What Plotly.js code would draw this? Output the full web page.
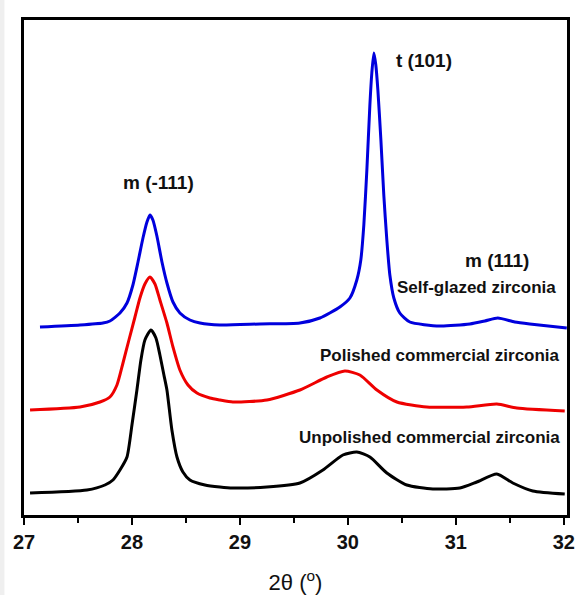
<!DOCTYPE html>
<html>
<head>
<meta charset="utf-8">
<script src="https://cdn.plot.ly/plotly-3.0.1.min.js"></script>
<style>html,body{margin:0;padding:0;background:#fff;}#chart{width:577px;height:595px;}</style>
</head>
<body>
<div id="chart"></div>
<script>
// 2θ (degrees) and intensity (arbitrary units, curves offset vertically)
const selfGlazedX = [27.148,27.519,27.731,27.796,27.889,27.954,28.009,28.056,28.102,28.139,28.167,28.194,28.231,28.278,28.324,28.380,28.444,28.537,28.630,28.815,29.185,29.556,29.741,29.926,30.019,30.083,30.120,30.148,30.176,30.204,30.222,30.241,30.259,30.278,30.306,30.333,30.361,30.389,30.426,30.481,30.574,30.852,31.130,31.269,31.389,31.546,31.685,32.028];
const selfGlazedY = [188,190,192,194,202,212,230,253,277,293,300,295,279,253,232,213,202,195,192,190,191,192,197,208,217,235,255,290,345,410,442,462,450,425,375,320,275,240,217,202,193,189,191,194,197,193,191,187];

const polishedX = [27.056,27.519,27.704,27.796,27.861,27.917,27.972,28.028,28.074,28.120,28.167,28.213,28.259,28.324,28.380,28.444,28.519,28.602,28.722,28.815,28.935,29.250,29.556,29.806,29.972,30.111,30.269,30.454,30.731,31.102,31.380,31.565,32.009];
const polishedY = [105,108,113,118,130,152,175,198,217,231,238,231,215,192,168,145,130,122,117,115,113,115,125,138,144,140,125,113,108,108,111,107,104];

const unpolishedX = [27.056,27.583,27.750,27.824,27.889,27.954,28.000,28.046,28.083,28.120,28.176,28.222,28.259,28.296,28.324,28.370,28.417,28.472,28.537,28.676,28.815,28.935,29.250,29.556,29.769,29.954,30.083,30.204,30.361,30.546,30.787,31.037,31.194,31.380,31.528,31.713,32.009];
const unpolishedY = [22,25,30,35,45,58,90,125,155,175,185,177,160,140,125,85,58,43,35,30,28,27,28,32,45,60,63,58,42,30,26,27,33,41,32,24,21];

const tickVals = [27,28,29,30,31,32];
const tickText = ["27","28","29","30","31","32"];

const FONT = '"Liberation Sans", Arial, sans-serif';

const traces = [
  {x: unpolishedX, y: unpolishedY, mode: 'lines', line: {color: '#000000', width: 3, shape: 'spline', smoothing: 0.6}, name: 'Unpolished commercial zirconia'},
  {x: polishedX, y: polishedY, mode: 'lines', line: {color: '#ee0000', width: 3, shape: 'spline', smoothing: 0.6}, name: 'Polished commercial zirconia'},
  {x: selfGlazedX, y: selfGlazedY, mode: 'lines', line: {color: '#0000dd', width: 3, shape: 'spline', smoothing: 0.6}, name: 'Self-glazed zirconia'}
];

const ann = (x, y, text, xanchor, size) => ({
  x: x, y: y, xref: 'x', yref: 'y', text: text, showarrow: false,
  xanchor: xanchor, yanchor: 'middle',
  font: {family: FONT, size: size, color: '#111'}
});

const layout = {
  width: 577, height: 595,
  margin: {l: 24, r: 10, t: 20, b: 80},
  paper_bgcolor: '#ffffff', plot_bgcolor: '#ffffff',
  showlegend: false,
  xaxis: {
    range: [27, 32.03], tickvals: tickVals, ticktext: tickText,
    ticks: 'outside', ticklen: 7, tickwidth: 2, tickcolor: '#000',
    minor: {dtick: 0.5, ticks: 'outside', ticklen: 5, tickwidth: 2, tickcolor: '#000'},
    showline: true, linecolor: '#000', linewidth: 3, mirror: true,
    showgrid: false, zeroline: false,
    tickfont: {family: FONT, size: 20, color: '#111', weight: 'bold'},
    title: {text: '2θ (<sup>o</sup>)', standoff: 24, font: {family: FONT, size: 22, color: '#111'}}
  },
  yaxis: {
    range: [0, 495], showticklabels: false, ticks: '',
    showline: true, linecolor: '#000', linewidth: 3, mirror: true,
    showgrid: false, zeroline: false
  },
  annotations: [
    ann(28.25, 333, '<b>m (-111)</b>', 'center', 19),
    ann(30.43, 455, '<b>t (101)</b>', 'left', 19),
    ann(31.38, 255, '<b>m (111)</b>', 'center', 19),
    ann(31.944, 228, '<b>Self-glazed zirconia</b>', 'right', 17),
    ann(31.98, 160, '<b>Polished commercial zirconia</b>', 'right', 17),
    ann(31.98, 78, '<b>Unpolished commercial zirconia</b>', 'right', 17)
  ],
  shapes: [
    {type: 'rect', xref: 'paper', yref: 'paper', x0: -0.05, x1: -0.036, y0: -0.2, y1: 1.05, fillcolor: '#efefef', line: {width: 0}, layer: 'below'}
  ]
};

Plotly.newPlot('chart', traces, layout, {displayModeBar: false, staticPlot: true});
</script>
</body>
</html>
